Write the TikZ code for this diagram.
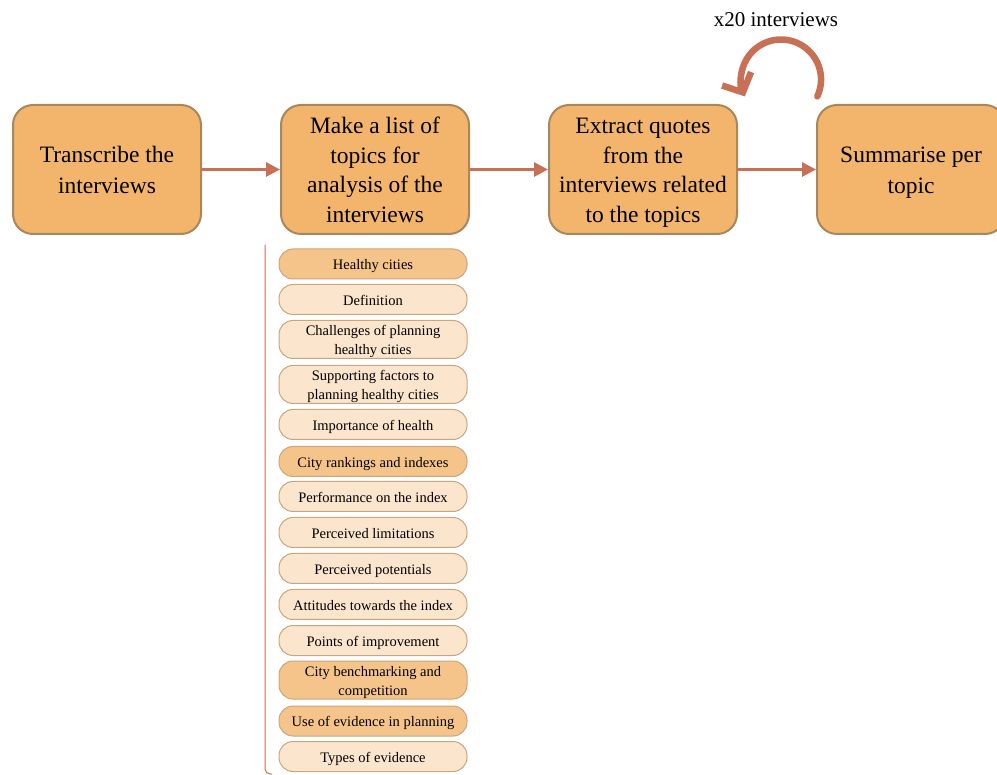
\documentclass[tikz,border=0pt]{standalone}
\usepackage{fontspec}
\setmainfont{Liberation Serif}
\usetikzlibrary{arrows.meta}
\definecolor{boxfill}{HTML}{F2B56B}
\definecolor{boxline}{HTML}{A9875C}
\definecolor{arrowc}{HTML}{C87056}
\definecolor{topdark}{HTML}{F4C48A}
\definecolor{toplight}{HTML}{FBE5CC}
\definecolor{topline}{HTML}{C9A67E}
\newcommand{\bs}{\rule[-6.6pt]{0pt}{30.2pt}}
\newcommand{\ts}{\rule[-3.5pt]{0pt}{18.5pt}}
\tikzset{
  mainbox/.style={draw=boxline, line width=2pt, fill=boxfill, rounded corners=20pt,
    minimum width=188pt, minimum height=129pt, align=center,
    font=\fontsize{23.5}{29.5}\selectfont, inner sep=2pt},
  topicbox/.style={draw=topline, line width=1pt, rounded corners=14pt,
    minimum width=188pt, align=center, inner xsep=1pt, inner ysep=0pt,
    font=\fontsize{14.5}{18}\selectfont},
  darktopic/.style={topicbox, fill=topdark, minimum height=30pt},
  lighttopic/.style={topicbox, fill=toplight, minimum height=30pt},
  flow/.style={draw=arrowc, line width=3pt, -{Triangle[length=14pt,width=14pt]}}
}
\begin{document}
\begin{tikzpicture}[x=1pt,y=-1pt]
\useasboundingbox (0,0) rectangle (997,775);
\node[mainbox] (t) at (107,169.5) {\bs Transcribe the\\interviews\bs};
\node[mainbox] (m) at (375,169.5) {\bs Make a list of\\topics for\\analysis of the\\interviews\bs};
\node[mainbox] (e) at (643,169.5) {\bs Extract quotes\\from the\\interviews related\\to the topics\bs};
\node[mainbox] (s) at (911,169.5) {\bs Summarise per\\topic\bs};
\draw[flow] (t) -- (m);
\draw[flow] (m) -- (e);
\draw[flow] (e) -- (s);
\node[font=\fontsize{21}{25}\selectfont] (x20) at (776,20) {x20 interviews};
\coordinate (loopstart) at (817.3,96.4);
\draw[arrowc, line width=6.5pt, line cap=round, -{Straight Barb[length=15pt,width=32pt]}]
  (loopstart) arc[start angle=25, end angle=-205, radius=40];
\node[darktopic] (h1) at (373,264) {\ts Healthy cities\ts};
\node[lighttopic] (h2) at (373,299.5) {\ts Definition\ts};
\node[lighttopic, minimum height=37pt] (h3) at (373,339.5) {\ts Challenges of planning\\healthy cities\ts};
\node[lighttopic, minimum height=37pt] (h4) at (373,384.5) {\ts Supporting factors to\\planning healthy cities\ts};
\node[lighttopic] (h5) at (373,424.5) {\ts Importance of health\ts};
\node[darktopic] (h6) at (373,461.5) {\ts City rankings and indexes\ts};
\node[lighttopic] (h7) at (373,496.5) {\ts Performance on the index\ts};
\node[lighttopic] (h8) at (373,532.5) {\ts Perceived limitations\ts};
\node[lighttopic] (h9) at (373,568.5) {\ts Perceived potentials\ts};
\node[lighttopic] (h10) at (373,604.5) {\ts Attitudes towards the index\ts};
\node[lighttopic] (h11) at (373,640.5) {\ts Points of improvement\ts};
\node[darktopic, minimum height=38pt] (h12) at (373,680) {\ts City benchmarking and\\competition\ts};
\node[darktopic] (h13) at (373,721) {\ts Use of evidence in planning\ts};
\node[lighttopic] (h14) at (373,756.5) {\ts Types of evidence\ts};
\coordinate (bt) at (265,245);
\coordinate (bb) at (272,774);
\draw[arrowc, line width=1pt, rounded corners=5pt] (bt) |- (bb);
\end{tikzpicture}
\end{document}
